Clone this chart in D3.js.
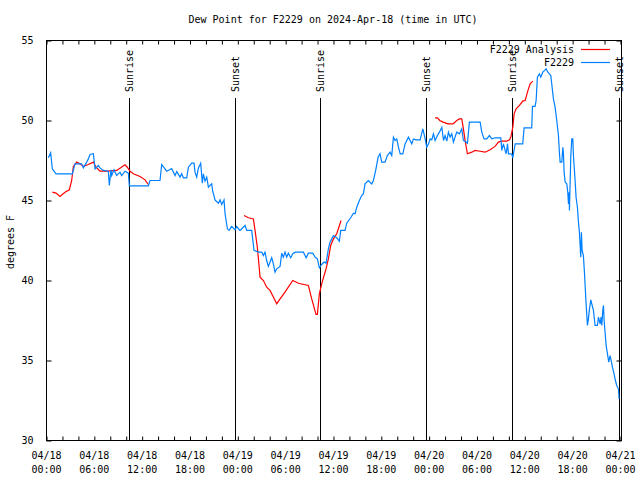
<!DOCTYPE html>
<html><head><meta charset="utf-8">
<script src="https://cdn.jsdelivr.net/npm/d3@7"></script>
<style>
html,body{margin:0;padding:0;background:#fff;}
text{font-family:"DejaVu Sans Mono","Liberation Mono",monospace;font-size:10px;fill:#000;}
</style></head>
<body>
<svg id="chart" width="640" height="480"></svg>
<script>
// ---- data (hours after 2024-04-18 00:00 UTC) ----
const titleText = "Dew Point for F2229 on 2024-Apr-18 (time in UTC)";
const yLabel = "degrees F";
const seriesNames = ["F2229 Analysis", "F2229"];
const yTicks = [30, 35, 40, 45, 50, 55];
const majorTickHours = [0, 6, 12, 18, 24, 30, 36, 42, 48, 54, 60, 66, 72];

const eventHours = [10.39, 23.69, 34.37, 47.65, 58.37, 71.8];
const eventLabels = ["Sunrise", "Sunset", "Sunrise", "Sunset", "Sunrise", "Sunset"];

const obsHours = [0.23,0.52,0.73,1.19,3.24,3.58,4.41,4.62,5.04,5.25,5.46,5.88,6.09,6.50,6.71,7.13,7.76,7.88,8.09,8.18,8.47,8.80,9.22,9.43,9.85,10.27,10.39,12.78,12.99,14.24,14.45,15.08,15.70,16.13,16.34,16.75,16.96,17.17,17.59,17.80,18.22,18.51,18.63,18.84,19.05,19.34,19.55,19.68,19.89,20.10,20.31,20.72,20.85,21.14,21.56,21.77,21.98,22.27,22.40,22.69,22.90,23.23,23.65,23.86,24.19,24.28,24.91,25.12,25.74,26.03,26.58,27.00,27.21,27.41,27.62,27.83,28.25,28.46,28.67,28.88,29.30,29.51,29.71,29.92,30.13,30.34,30.64,30.89,31.19,32.23,32.57,32.85,33.40,33.69,33.98,34.23,34.52,34.82,35.07,35.36,35.57,35.78,35.99,36.41,36.74,36.91,37.45,37.66,38.16,38.50,38.71,38.92,39.25,39.54,39.75,39.96,40.38,40.80,41.01,41.30,41.60,41.84,42.05,42.47,42.76,43.10,43.31,43.52,43.73,43.94,44.15,44.37,44.70,44.98,45.40,45.61,45.82,46.03,46.36,46.87,47.21,47.50,47.70,47.92,48.13,48.33,48.54,48.75,49.04,49.29,49.59,49.80,50.00,50.21,50.42,50.63,50.84,51.05,51.25,51.46,51.80,52.09,52.30,52.63,52.80,53.05,54.40,54.60,54.89,55.23,55.56,55.86,56.27,56.99,57.11,57.32,57.53,57.66,57.83,57.95,58.25,58.36,58.50,58.58,58.79,59.74,59.91,60.87,60.96,61.29,61.42,61.58,61.83,62.00,62.25,62.50,62.67,62.88,63.09,63.26,63.38,63.59,63.80,64.01,64.22,64.35,64.43,64.64,64.77,64.85,64.93,65.06,65.27,65.39,65.48,65.56,65.60,65.77,65.90,66.02,66.10,66.31,66.43,66.60,66.73,66.85,66.94,67.02,67.10,67.19,67.35,67.48,67.60,67.69,67.86,67.98,68.11,68.28,68.40,68.61,68.82,69.11,69.24,69.45,69.57,69.66,69.78,69.87,69.95,70.07,70.20,70.37,70.53,70.70,70.83,70.99,71.20,71.37,71.53,71.74,71.83];
const obsDew = [47.67,47.98,46.98,46.67,46.67,47.29,47.29,47.04,47.40,47.60,47.88,47.92,46.98,47.19,47.04,46.88,46.83,45.94,46.92,46.56,46.92,46.56,46.77,46.56,46.83,46.71,45.92,45.92,46.25,46.25,47.25,46.83,47.00,46.56,46.81,46.46,46.67,46.42,46.42,47.08,47.33,47.33,46.77,46.46,47.02,47.33,46.08,46.67,46.21,46.46,45.83,46.04,45.58,45.04,44.83,45.04,44.75,45.04,44.17,43.23,43.13,43.38,43.17,43.38,43.17,43.13,43.44,43.13,43.13,41.88,41.77,41.77,41.56,41.77,41.25,40.88,41.42,41.04,40.52,40.73,40.88,41.71,41.46,41.77,41.46,41.71,41.42,41.67,41.77,41.77,41.42,41.71,41.71,41.46,41.35,40.79,41.00,41.15,41.08,41.98,42.40,42.60,42.81,42.67,42.46,43.13,43.13,43.58,43.92,44.21,44.17,44.58,45.00,45.31,45.42,46.04,46.25,46.04,46.25,46.90,47.70,47.92,47.40,47.40,47.81,48.02,47.81,48.96,48.75,48.85,48.33,47.92,47.92,48.54,48.96,48.75,48.54,48.85,48.79,48.79,49.48,48.85,48.33,48.54,48.85,48.79,49.17,48.75,49.06,49.27,49.58,48.75,49.06,48.71,49.27,48.96,49.17,48.65,48.96,49.27,49.17,49.48,48.75,48.65,48.58,49.90,49.90,49.27,48.85,48.85,49.06,48.85,48.92,48.92,48.13,48.54,48.13,47.92,48.54,47.92,47.92,47.88,47.67,47.92,48.54,48.54,49.54,49.54,50.88,50.88,51.25,52.71,52.92,52.71,53.02,53.13,53.23,53.02,52.92,52.81,52.29,51.35,50.83,50.00,49.06,47.92,47.40,47.40,48.33,47.92,46.77,46.15,46.04,45.52,44.79,45.52,44.38,47.81,48.85,48.85,47.81,46.25,45.21,44.58,43.65,43.02,42.19,41.46,43.02,41.88,41.56,40.52,39.38,38.54,37.19,37.60,38.23,38.79,38.54,38.13,37.19,37.19,37.71,37.29,37.71,37.19,38.13,38.44,37.50,36.77,35.94,35.42,34.90,35.31,35.00,34.58,34.17,33.75,33.44,33.23,32.60];

// analysis: null marks a gap
const anaHours = [0.73,1.19,1.69,2.32,2.86,3.16,3.37,3.79,4.20,4.62,5.25,5.88,6.21,6.71,7.76,8.80,9.30,9.85,10.14,10.48,10.90,11.73,12.36,12.78,18.0,24.78,25.33,25.95,26.16,26.45,26.79,27.21,27.62,28.04,28.88,29.30,29.92,30.89,31.60,32.85,33.27,33.81,33.98,34.23,34.52,34.82,35.07,35.36,35.65,35.99,36.41,36.95,42.0,48.75,49.04,49.33,49.75,50.38,51.00,51.46,51.80,52.09,52.30,52.51,52.80,53.35,53.76,54.40,55.02,55.65,56.27,56.69,57.11,57.74,58.08,58.25,58.50,58.66,58.91,59.33,59.74,60.05,60.33,60.67,61.00];
const anaDew = [45.52,45.46,45.25,45.52,45.67,46.25,47.13,47.40,47.29,47.13,47.25,47.40,47.08,46.83,46.83,46.88,47.04,47.23,47.08,46.83,46.67,46.50,46.29,46.00,null,44.06,43.92,43.85,43.13,42.08,40.21,40.00,39.58,39.38,38.54,38.85,39.27,40.00,39.83,39.69,38.85,37.88,37.88,39.17,39.79,40.31,40.73,41.35,42.19,42.60,42.92,43.75,null,50.17,50.17,50.00,49.90,49.79,49.79,50.00,50.10,50.10,49.48,48.75,47.92,48.02,48.13,48.08,48.02,48.17,48.38,48.65,48.71,48.71,48.79,48.96,49.58,50.42,50.73,50.94,51.21,51.25,51.77,52.29,52.46];

// ---- chart ----
const t0 = Date.UTC(2024, 3, 18);
const hr = h => new Date(t0 + h * 3600e3);
const L = 46.5, R = 621.5, T = 40.5, B = 440.5;
const x = d3.scaleUtc().domain([hr(0), hr(72.13)]).range([L, R]);
const y = d3.scaleLinear().domain([30, 55]).range([B, T]);
const svg = d3.select("#chart");
const red = "#ff0000", blue = "#0080ff";

// title
svg.append("text").attr("x", 333).attr("y", 23).attr("text-anchor", "middle").text(titleText);
// y label
svg.append("text").attr("transform", "translate(14,242) rotate(-90)").attr("text-anchor", "middle").text(yLabel);

// ticks
const minor = d3.range(0, 73, 2).map(hr);
svg.append("g").attr("transform", `translate(0,${B})`)
  .call(d3.axisBottom(x).tickValues(minor).tickSizeInner(-4).tickSizeOuter(0).tickFormat(() => ""))
  .call(g => g.select(".domain").remove());
svg.append("g").attr("transform", `translate(0,${T})`)
  .call(d3.axisTop(x).tickValues(minor).tickSizeInner(-4).tickSizeOuter(0).tickFormat(() => ""))
  .call(g => g.select(".domain").remove());
svg.append("g").attr("transform", `translate(${L},0)`)
  .call(d3.axisLeft(y).tickValues(yTicks).tickSizeInner(-5).tickSizeOuter(0).tickPadding(13))
  .call(g => g.select(".domain").remove());
svg.append("g").attr("transform", `translate(${R},0)`)
  .call(d3.axisRight(y).tickValues(yTicks).tickSizeInner(-5).tickSizeOuter(0).tickFormat(() => ""))
  .call(g => g.select(".domain").remove());
svg.selectAll(".tick line").attr("stroke", "#000");
svg.selectAll("g[font-family]").attr("font-family", null).attr("font-size", null);

// x labels
const fmtD = d3.utcFormat("%m/%d"), fmtT = d3.utcFormat("%H:%M");
const xl = svg.append("g").selectAll("text").data(majorTickHours.map(hr)).join("text")
  .attr("text-anchor", "middle");
xl.append("tspan").attr("x", d => x(d)).attr("y", 459).text(d => fmtD(d));
xl.append("tspan").attr("x", d => x(d)).attr("y", 473).text(d => fmtT(d));

// sunrise / sunset
const ev = svg.append("g");
eventHours.forEach((h, i) => {
  const xx = Math.round(x(hr(h))) + 0.5;
  ev.append("line").attr("x1", xx).attr("x2", xx).attr("y1", 98).attr("y2", B).attr("stroke", "#000").attr("stroke-width", 1);
  ev.append("text").attr("transform", `translate(${xx},92) rotate(-90)`).attr("dy", "0.35em").text(eventLabels[i]);
});

// lines
const line = d3.line().defined(d => d[1] != null).x(d => x(hr(d[0]))).y(d => y(d[1]));
svg.append("path").datum(anaHours.map((h, i) => [h, anaDew[i]]))
  .attr("fill", "none").attr("stroke", red).attr("stroke-width", 1.2).attr("d", line);
svg.append("path").datum(obsHours.map((h, i) => [h, obsDew[i]]))
  .attr("fill", "none").attr("stroke", blue).attr("stroke-width", 1.2).attr("d", line);

// border
svg.append("rect").attr("x", L).attr("y", T).attr("width", R - L).attr("height", B - T)
  .attr("fill", "none").attr("stroke", "#000").attr("stroke-width", 1);

// legend
const lg = svg.append("g");
[[seriesNames[0], red, 49.5], [seriesNames[1], blue, 62.5]].forEach(([name, c, yy]) => {
  lg.append("text").attr("x", 574).attr("y", yy).attr("dy", "0.35em").attr("text-anchor", "end").text(name);
  lg.append("line").attr("x1", 581).attr("x2", 610).attr("y1", yy).attr("y2", yy).attr("stroke", c).attr("stroke-width", 1.2);
});
</script>
</body></html>
